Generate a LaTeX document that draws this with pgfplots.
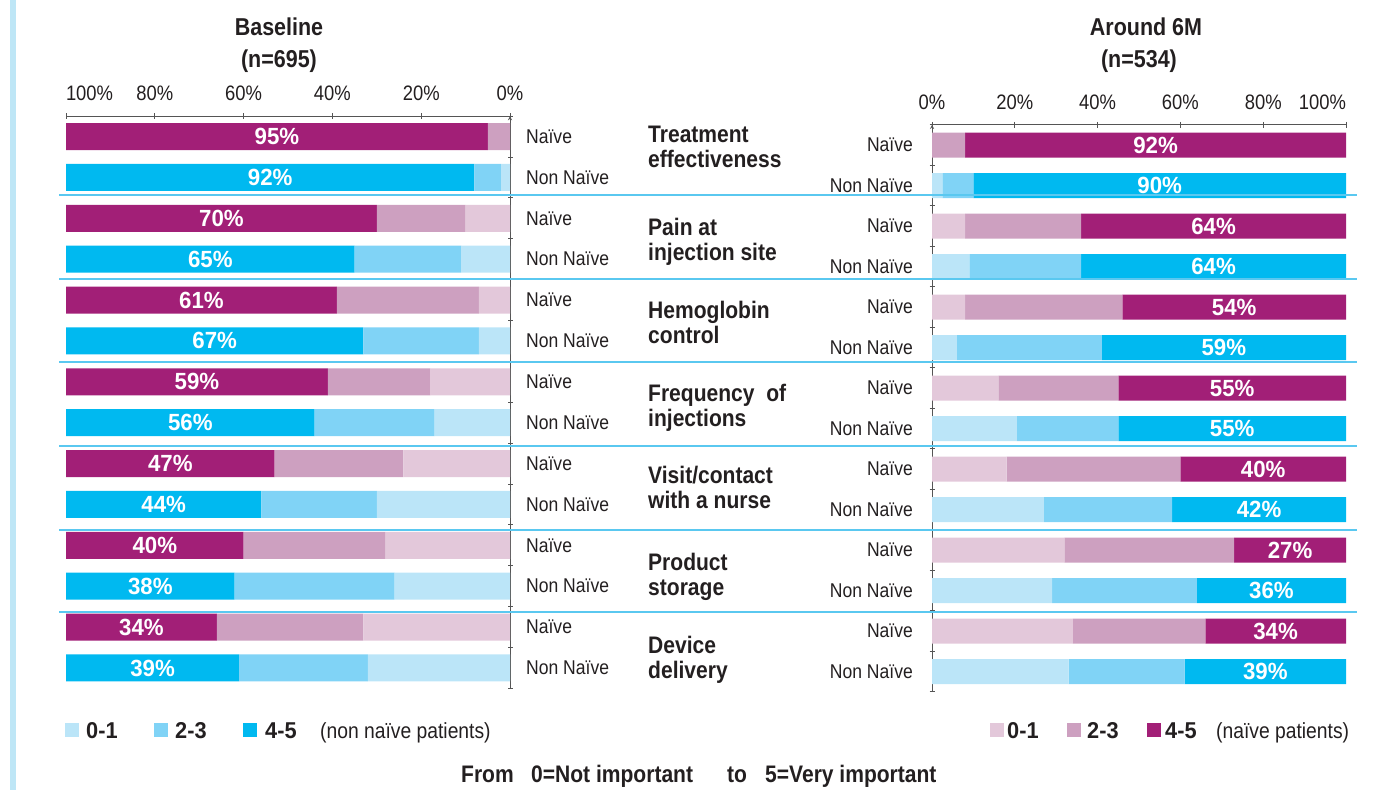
\documentclass[border=0pt]{standalone}
\usepackage{fontspec}
\setmainfont{Liberation Sans}[FakeStretch=0.88]
\newfontfamily\numfont{Liberation Sans}[FakeStretch=0.95]
\usepackage{pgfplots}
\pgfplotsset{compat=1.18}
\usepackage{pgfplotstable}

\definecolor{mA}{HTML}{E3C8DA}
\definecolor{mB}{HTML}{CDA0C0}
\definecolor{mC}{HTML}{A21F77}
\definecolor{bA}{HTML}{BBE5F8}
\definecolor{bB}{HTML}{80D3F6}
\definecolor{bC}{HTML}{00B9F0}
\definecolor{sep}{HTML}{5AC8F0}
\definecolor{edge}{HTML}{BEE6F6}
\definecolor{txt}{HTML}{231F20}
\definecolor{axl}{HTML}{555555}

% y = row (13 = top), t = 0 naive, 1 non naive; a = 0-1, b = 2-3, c = 4-5
\pgfplotstableread{
y  t a    b    c
13 0 0    5    95
12 1 2    6    92
11 0 10   20   70
10 1 11   24   65
9  0 7    32   61
8  1 7    26   67
7  0 18   23   59
6  1 17   27   56
5  0 24   29   47
4  1 30   26   44
3  0 28   32   40
2  1 26   36   38
1  0 33   33   34
0  1 32   29   39
}\leftdata

\pgfplotstableread{
y  t a    b    c
13 0 0    8    92
12 1 2.5  7.5  90
11 0 8    28   64
10 1 9    27   64
9  0 8    38   54
8  1 6    35   59
7  0 16   29   55
6  1 20.5 24.5 55
5  0 18   42   40
4  1 27   31   42
3  0 32   41   27
2  1 29   35   36
1  0 34   32   34
0  1 33   28   39
}\rightdata

\tikzset{lab/.style={text=white, font=\numfont\bfseries\fontsize{23.5}{26}\selectfont, inner sep=0pt, anchor=center}}

\pgfplotsset{
  panel/.style={
    xbar stacked,
    scale only axis,
    ymin=-0.5, ymax=13.5,
    ytick={0,...,13},
    yticklabels={Non Naïve,Naïve,Non Naïve,Naïve,Non Naïve,Naïve,Non Naïve,Naïve,Non Naïve,Naïve,Non Naïve,Naïve,Non Naïve,Naïve},
    minor ytick={-0.5,0.5,1.5,2.5,3.5,4.5,5.5,6.5,7.5,8.5,9.5,10.5,11.5,12.5,13.5},
    major y tick style={draw=none},
    minor y tick style={axl, line width=0.9bp},
    major x tick style={axl, line width=0.9bp},
    minor tick length=5bp,
    major tick length=6bp,
    tick align=outside,
    axis x line=top,
    axis line style={-, axl, line width=0.9bp},
    xticklabel style={font=\fontsize{21}{25}\selectfont, text=txt, inner sep=0pt, anchor=base, yshift=12.5bp},
    yticklabel style={font=\fontsize{20}{24}\selectfont, text=txt, inner sep=0pt},
    clip=false,
  },
  overlay/.style={
    scale only axis, hide axis, clip=false,
    ymin=-0.5, ymax=13.5,
  },
  vlabels/.style={
    only marks, mark=none, point meta=explicit symbolic,
    nodes near coords={\pgfplotspointmeta\%},
    nodes near coords style={lab},
  },
}

\begin{document}
\begin{tikzpicture}
\useasboundingbox (0,0) rectangle (1395bp,-790bp);

% ---------- left panel: Baseline ----------
\begin{axis}[panel,
  at={(66bp,-688.4bp)}, anchor=south west,
  width=444bp, height=572.3bp,
  bar width=27bp,
  xmin=-100, xmax=0,
  axis y line=right,
  xtick={-100,-80,-60,-40,-20,0},
  xticklabels={\rlap{100\%},80\%,60\%,40\%,20\%,0\%},
  yticklabel style={anchor=west, xshift=13bp},
]
\addplot[fill=mA, draw=none] table[y=y, x expr={-\thisrow{a}*(1-\thisrow{t})}]{\leftdata};
\addplot[fill=mB, draw=none] table[y=y, x expr={-\thisrow{b}*(1-\thisrow{t})}]{\leftdata};
\addplot[fill=mC, draw=none] table[y=y, x expr={-\thisrow{c}*(1-\thisrow{t})}]{\leftdata};
\addplot[fill=bA, draw=none] table[y=y, x expr={-\thisrow{a}*\thisrow{t}}]{\leftdata};
\addplot[fill=bB, draw=none] table[y=y, x expr={-\thisrow{b}*\thisrow{t}}]{\leftdata};
\addplot[fill=bC, draw=none] table[y=y, x expr={-\thisrow{c}*\thisrow{t}}]{\leftdata};
\end{axis}
% value labels (4-5 share), centred in the 4-5 segment
\begin{axis}[overlay,
  at={(66bp,-688.4bp)}, anchor=south west,
  width=444bp, height=572.3bp,
  xmin=-100, xmax=0,
]
\addplot[vlabels] table[y=y, x expr={-(100-\thisrow{c}/2)}, meta=c]{\leftdata};
\end{axis}

% ---------- right panel: Around 6M ----------
\begin{axis}[panel,
  at={(932bp,-691.75bp)}, anchor=south west,
  width=414bp, height=567bp,
  bar width=25bp,
  xmin=0, xmax=100,
  axis y line=left,
  xtick={0,20,40,60,80,100},
  xticklabels={0\%,20\%,40\%,60\%,80\%,\llap{100\%}},
  yticklabel style={anchor=east, xshift=-16bp},
]
\addplot[fill=mA, draw=none] table[y=y, x expr={\thisrow{a}*(1-\thisrow{t})}]{\rightdata};
\addplot[fill=mB, draw=none] table[y=y, x expr={\thisrow{b}*(1-\thisrow{t})}]{\rightdata};
\addplot[fill=mC, draw=none] table[y=y, x expr={\thisrow{c}*(1-\thisrow{t})}]{\rightdata};
\addplot[fill=bA, draw=none] table[y=y, x expr={\thisrow{a}*\thisrow{t}}]{\rightdata};
\addplot[fill=bB, draw=none] table[y=y, x expr={\thisrow{b}*\thisrow{t}}]{\rightdata};
\addplot[fill=bC, draw=none] table[y=y, x expr={\thisrow{c}*\thisrow{t}}]{\rightdata};
\end{axis}
\begin{axis}[overlay,
  at={(932bp,-691.75bp)}, anchor=south west,
  width=414bp, height=567bp,
  xmin=0, xmax=100,
]
\addplot[vlabels] table[y=y, x expr={100-\thisrow{c}/2}, meta=c]{\rightdata};
\end{axis}

\begin{scope}[x=1bp, y=-1bp]
% left edge strip
\fill[edge] (10,0) rectangle (15.5,790);
% group separators
\foreach \yy in {195,279,362,446,530,612}
  \draw[sep, line width=2bp] (59,\yy) -- (1357,\yy);
% titles
\begin{scope}[every node/.style={text=txt, font=\bfseries\fontsize{24.5}{28}\selectfont, inner sep=0pt}]
\node[anchor=base] at (279,35) {Baseline};
\node[anchor=base] at (279,67) {(n=695)};
\node[anchor=base] at (1146,35) {Around 6M};
\node[anchor=base] at (1139,67) {(n=534)};
\end{scope}
% category labels
\begin{scope}[every node/.style={text=txt, font=\bfseries\fontsize{24}{26}\selectfont, inner sep=0pt, anchor=base west}]
\node at (648,142) {Treatment};
\node at (648,167) {effectiveness};
\node at (648,235) {Pain at};
\node at (648,260) {injection site};
\node at (648,318) {Hemoglobin};
\node at (648,343) {control};
\node at (648,401) {Frequency\ \ of};
\node at (648,426) {injections};
\node at (648,483) {Visit/contact};
\node at (648,508) {with a nurse};
\node at (648,570) {Product};
\node at (648,595) {storage};
\node at (648,653) {Device};
\node at (648,678) {delivery};
\end{scope}
% legends
\fill[bA] (65,723) rectangle (79,737);
\fill[bB] (154,723) rectangle (168,737);
\fill[bC] (243,723) rectangle (257,737);
\fill[mA] (990,723) rectangle (1004,737);
\fill[mB] (1067,723) rectangle (1081,737);
\fill[mC] (1147,723) rectangle (1161,737);
\begin{scope}[every node/.style={text=txt, inner sep=0pt, anchor=base west}]
\node[font=\numfont\bfseries\fontsize{23}{26}\selectfont] at (86,738) {0-1};
\node[font=\numfont\bfseries\fontsize{23}{26}\selectfont] at (175,738) {2-3};
\node[font=\numfont\bfseries\fontsize{23}{26}\selectfont] at (265,738) {4-5};
\node[font=\fontsize{22}{26}\selectfont] at (320,738) {(non naïve patients)};
\node[font=\numfont\bfseries\fontsize{23}{26}\selectfont] at (1007,738) {0-1};
\node[font=\numfont\bfseries\fontsize{23}{26}\selectfont] at (1087,738) {2-3};
\node[font=\numfont\bfseries\fontsize{23}{26}\selectfont] at (1165,738) {4-5};
\node[font=\fontsize{22}{26}\selectfont] at (1216,738) {(naïve patients)};
% bottom note
\node[font=\bfseries\fontsize{24}{28}\selectfont] at (461,782) {From};
\node[font=\bfseries\fontsize{24}{28}\selectfont] at (531,782) {0=Not important};
\node[font=\bfseries\fontsize{24}{28}\selectfont] at (727,782) {to};
\node[font=\bfseries\fontsize{24}{28}\selectfont] at (765,782) {5=Very important};
\end{scope}
\end{scope}
\end{tikzpicture}
\end{document}
